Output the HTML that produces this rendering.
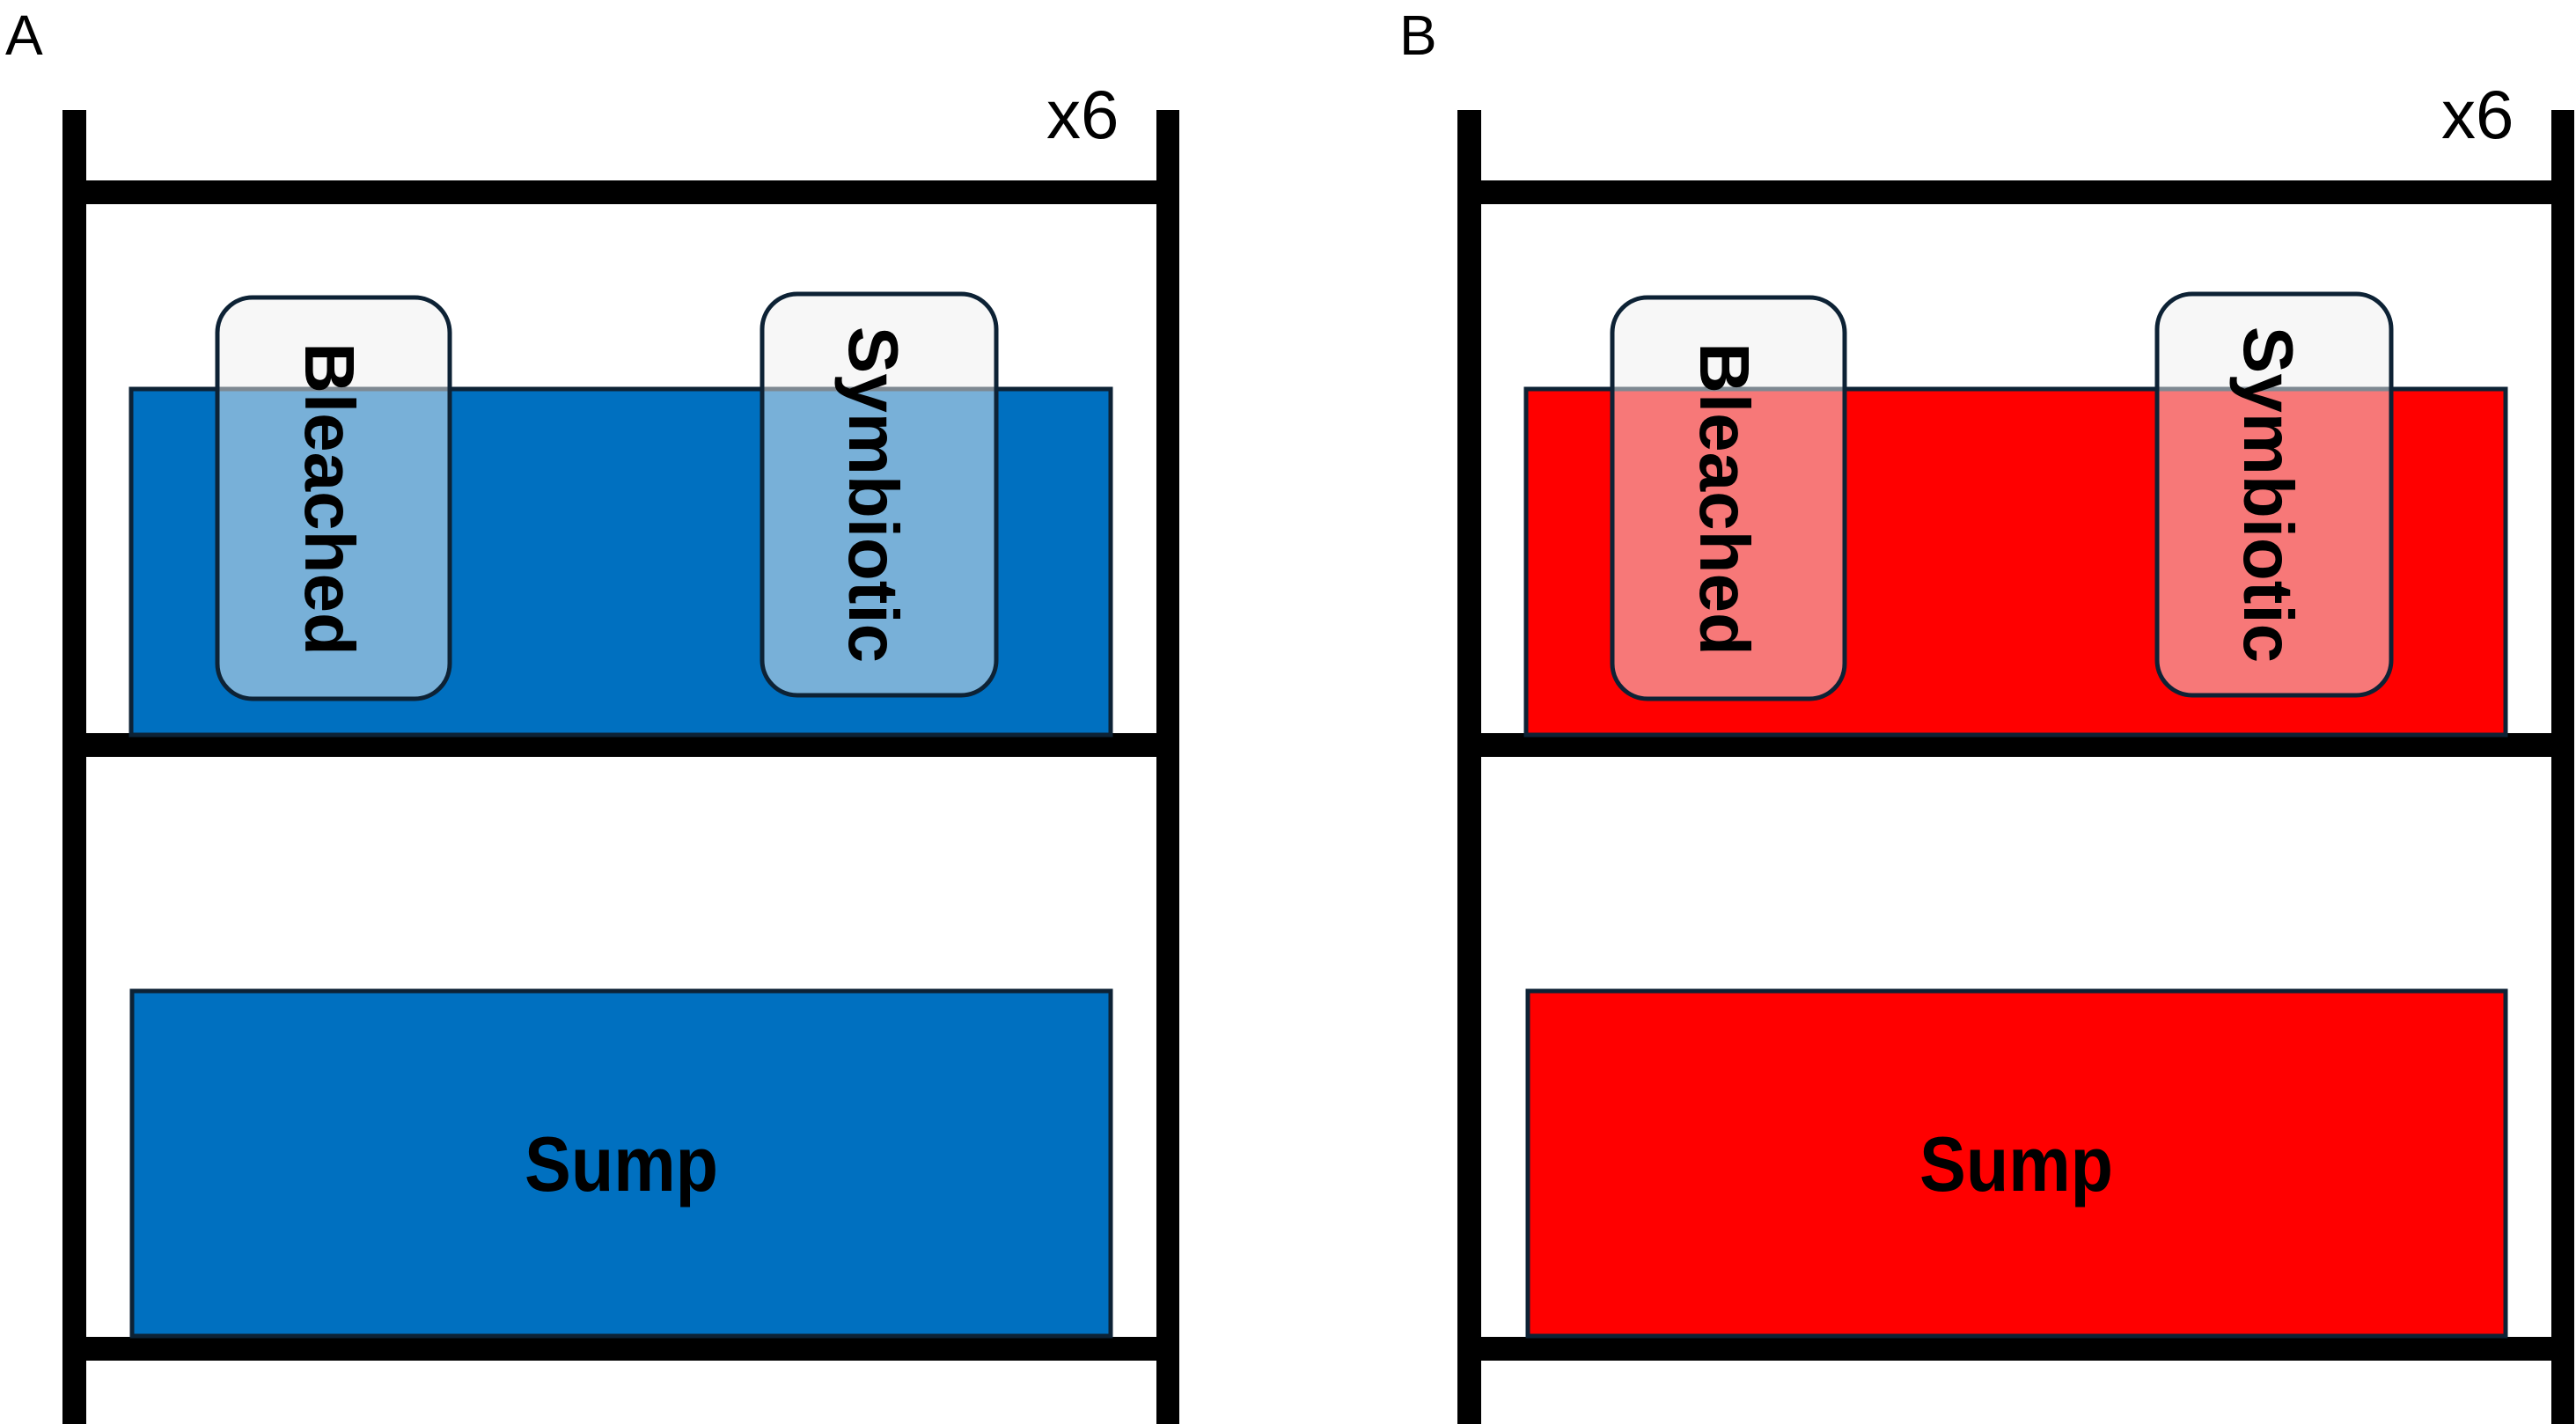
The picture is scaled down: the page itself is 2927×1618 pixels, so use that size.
<!DOCTYPE html>
<html><head><meta charset="utf-8"><style>
html,body{margin:0;padding:0;background:#fff;}
svg{display:block;}
text{font-family:"Liberation Sans",sans-serif;}
</style></head><body>
<svg width="2927" height="1618" viewBox="0 0 2927 1618" xmlns="http://www.w3.org/2000/svg">
<defs>
<g id="rack">
  <rect x="71" y="125" width="27" height="1493" fill="#000"/>
  <rect x="1314" y="125" width="26" height="1493" fill="#000"/>
  <rect x="98" y="205" width="1216" height="27" fill="#000"/>
  <rect x="98" y="833" width="1216" height="27" fill="#000"/>
  <rect x="98" y="1519" width="1216" height="27" fill="#000"/>
  <text x="1189" y="157" font-size="78" fill="#000">x6</text>
</g>
</defs>

<!-- Panel A -->
<text x="6" y="62" font-size="64" fill="#000">A</text>
<use href="#rack"/>
<rect x="149" y="442" width="1113" height="393" fill="#0070C0" stroke="#0d2235" stroke-width="5"/>
<rect x="150" y="1126" width="1112" height="392" fill="#0070C0" stroke="#0d2235" stroke-width="5"/>
<text x="706" y="1353" font-size="88" font-weight="bold" text-anchor="middle" transform="translate(706 0) scale(0.9 1) translate(-706 0)" fill="#000">Sump</text>
<rect x="247" y="338" width="264" height="456" rx="40" fill="rgba(240,240,240,0.5)" stroke="#0d2235" stroke-width="5"/>
<rect x="866" y="334" width="266" height="456" rx="40" fill="rgba(240,240,240,0.5)" stroke="#0d2235" stroke-width="5"/>
<text transform="translate(375 567) rotate(90)" font-size="80" font-weight="bold" text-anchor="middle" dy="28" fill="#000">Bleached</text>
<text transform="translate(993 562) rotate(90)" font-size="80" font-weight="bold" text-anchor="middle" dy="28" fill="#000">Symbiotic</text>

<!-- Panel B -->
<text x="1590" y="62" font-size="64" fill="#000">B</text>
<use href="#rack" transform="translate(1585 0)"/>
<rect x="1734" y="442" width="1113" height="393" fill="#FF0000" stroke="#0d2235" stroke-width="5"/>
<rect x="1736" y="1126" width="1111" height="392" fill="#FF0000" stroke="#0d2235" stroke-width="5"/>
<text x="2291" y="1353" font-size="88" font-weight="bold" text-anchor="middle" transform="translate(2291 0) scale(0.9 1) translate(-2291 0)" fill="#000">Sump</text>
<rect x="1832" y="338" width="264" height="456" rx="40" fill="rgba(240,240,240,0.5)" stroke="#0d2235" stroke-width="5"/>
<rect x="2451" y="334" width="266" height="456" rx="40" fill="rgba(240,240,240,0.5)" stroke="#0d2235" stroke-width="5"/>
<text transform="translate(1960 567) rotate(90)" font-size="80" font-weight="bold" text-anchor="middle" dy="28" fill="#000">Bleached</text>
<text transform="translate(2578 562) rotate(90)" font-size="80" font-weight="bold" text-anchor="middle" dy="28" fill="#000">Symbiotic</text>
</svg>
</body></html>
